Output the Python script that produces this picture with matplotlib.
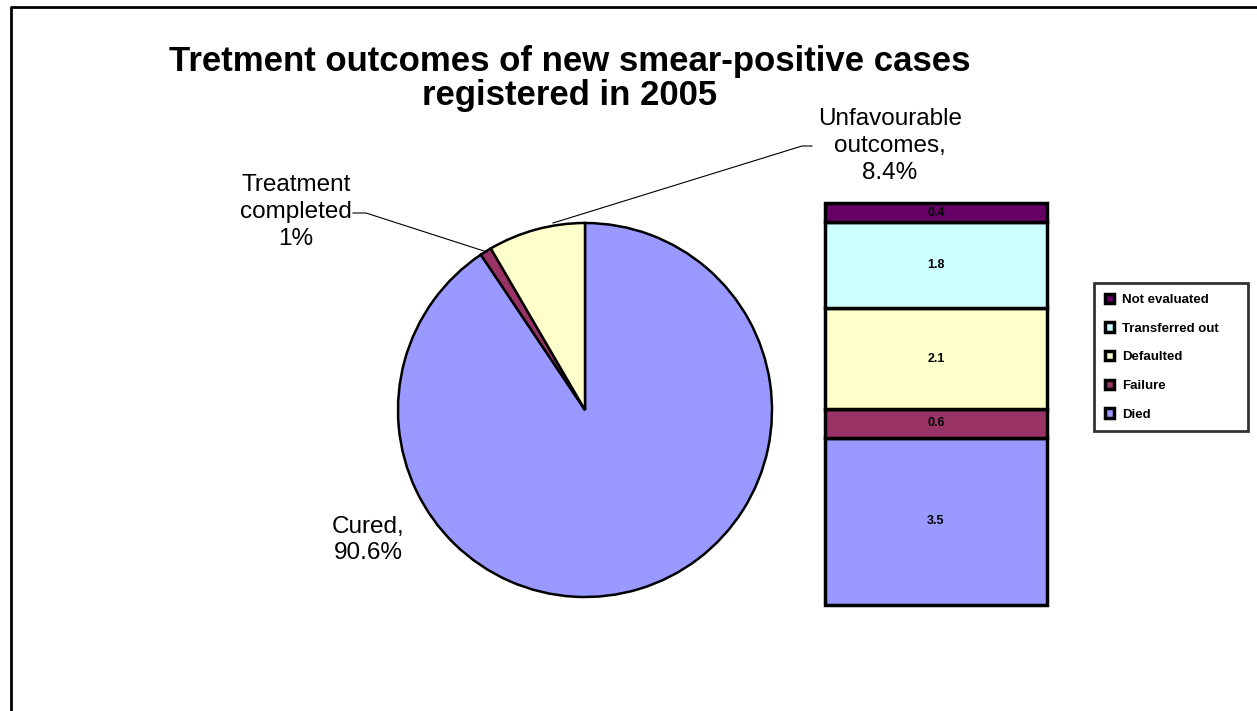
import matplotlib
matplotlib.use('Agg')
import matplotlib.pyplot as plt

plt.rcParams['font.family'] = ['Liberation Sans', 'DejaVu Sans']

pie_labels = ['Cured', 'Treatment completed', 'Unfavourable outcomes']
pie_values = [90.6, 1.0, 8.4]
pie_colors = ['#9999FF', '#993366', '#FFFFCC']

bar_labels = ['Died', 'Failure', 'Defaulted', 'Transferred out', 'Not evaluated']
bar_values = [3.5, 0.6, 2.1, 1.8, 0.4]
bar_colors = ['#9999FF', '#993366', '#FFFFCC', '#CCFFFF', '#660066']

W, H = 1257, 711
fig = plt.figure(figsize=(W / 100, H / 100), dpi=100)

def box(l, t, r, b):
    return [l / W, 1 - b / H, (r - l) / W, (b - t) / H]

def fx(x):
    return x / W

def fy(y):
    return 1 - y / H

# outer frame (only left and top visible)
fig.add_artist(plt.Line2D([fx(11), fx(11), fx(1260)], [fy(715), fy(7), fy(7)],
                          transform=fig.transFigure, color='black', lw=2))

fig.text(fx(570), fy(61), 'Tretment outcomes of new smear-positive cases',
         ha='center', va='center', fontsize=25, fontweight='bold')
fig.text(fx(570), fy(95), 'registered in 2005',
         ha='center', va='center', fontsize=25, fontweight='bold')

# pie
ax = fig.add_axes(box(398, 223, 772, 597))
ax.pie(pie_values, colors=pie_colors, startangle=90, counterclock=False,
       radius=1, wedgeprops=dict(edgecolor='black', linewidth=1.8))
ax.set_xlim(-1, 1)
ax.set_ylim(-1, 1)
ax.set_aspect('auto')
ax.axis('off')

lab = dict(ha='center', va='center', fontsize=17.5, linespacing=1.28)
fig.text(fx(296), fy(212), 'Treatment\ncompleted\n1%', **lab)
fig.text(fx(890), fy(146), 'Unfavourable\noutcomes,\n8.4%', **lab)
fig.text(fx(368), fy(540), 'Cured,\n90.6%', **lab)

# leader lines
fig.add_artist(plt.Line2D([fx(353), fx(366), fx(487)], [fy(213), fy(213), fy(252)],
                          transform=fig.transFigure, color='black', lw=0.8))
fig.add_artist(plt.Line2D([fx(812), fx(802), fx(553)], [fy(146), fy(146), fy(223)],
                          transform=fig.transFigure, color='black', lw=0.8))

# stacked bar
bx = fig.add_axes(box(825, 203, 1047, 605))
bottom = 0
handles = []
for name, val, col in zip(bar_labels, bar_values, bar_colors):
    h = bx.bar(0, val, width=1, bottom=bottom, color=col, edgecolor='black',
               linewidth=2.5, label=name, clip_on=False)
    handles.append(h)
    bx.text(0, bottom + val / 2, f'{val:.1f}', ha='center', va='center',
            fontsize=9, fontweight='bold')
    bottom += val
bx.set_xlim(-0.5, 0.5)
bx.set_ylim(0, sum(bar_values))
bx.axis('off')

leg = fig.legend(handles[::-1], bar_labels[::-1], loc='upper left',
                 bbox_to_anchor=(fx(1094), fy(283) - 0.01, fx(154), 0.01),
                 mode='expand',
                 prop=dict(weight='bold', size=9.5),
                 frameon=True, fancybox=False, handlelength=0.7, handleheight=0.7,
                 labelspacing=1.25, borderpad=0.8, handletextpad=0.6,
                 borderaxespad=0)
leg.get_frame().set_edgecolor('black')
leg.get_frame().set_linewidth(2)

fig.savefig('out.png', dpi=100)
